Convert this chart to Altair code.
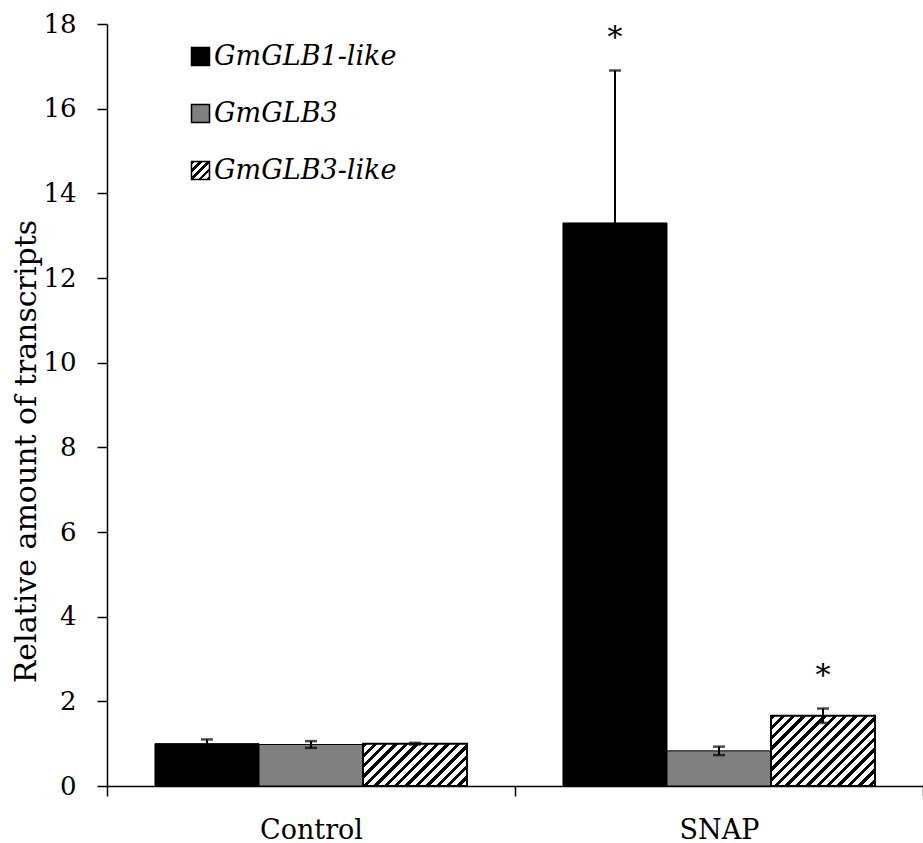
import json
import altair as alt
import pandas as pd

# ---- data ----
treatments = ["Control", "Control", "Control", "SNAP", "SNAP", "SNAP"]
genes = ["GmGLB1-like", "GmGLB3", "GmGLB3-like", "GmGLB1-like", "GmGLB3", "GmGLB3-like"]
values = [1.0, 0.98, 1.0, 13.3, 0.83, 1.66]
errors = [0.1, 0.08, 0.02, 3.6, 0.1, 0.17]
marks = ["", "", "", "*", "", "*"]

gene_order = ["GmGLB1-like", "GmGLB3", "GmGLB3-like"]
y_ticks = [0, 2, 4, 6, 8, 10, 12, 14, 16, 18]
y_max = 18

df = pd.DataFrame({"treatment": treatments, "gene": genes, "value": values,
                   "err": errors, "mark": marks})
df["lo"] = df["value"] - df["err"]
df["hi"] = df["value"] + df["err"]

W, H = 816, 762
FONT = "DejaVu Serif"
BAR_W = 104
PX_PER_UNIT = H / y_max


def hatch_stops(w, h, period=10.4, duty=0.42):
    n = (w + h) / period
    stops = []
    k = 0
    while k / n < 1:
        a = k / n
        b = min((k + duty) / n, 1.0)
        c = min((k + 1) / n, 1.0)
        stops += [{"offset": round(a, 5), "color": "black"}, {"offset": round(b, 5), "color": "black"},
                  {"offset": round(b, 5), "color": "white"}, {"offset": round(c, 5), "color": "white"}]
        k += 1
    r = h / w
    s = (1 + r) / (1 + r * r)
    return {"gradient": "linear", "x1": 0, "y1": 0, "x2": round(s, 5), "y2": round(s * r, 5), "stops": stops}


def hatch_gradient(w, h):
    g = hatch_stops(w, h)
    return alt.Gradient(gradient="linear", x1=g["x1"], y1=g["y1"], x2=g["x2"], y2=g["y2"],
                        stops=[alt.GradientStop(offset=s["offset"], color=s["color"]) for s in g["stops"]])


sym_hatch = hatch_stops(18, 18, period=8.0, duty=0.45)
gene_colors = ["black", "#808080", alt.ExprRef(expr=json.dumps(sym_hatch))]

x_enc = alt.X("treatment:N", sort=["Control", "SNAP"],
              scale=alt.Scale(paddingInner=0, paddingOuter=0),
              axis=alt.Axis(title=None, labelAngle=0, labelFont=FONT, labelFontSize=27,
                            labelColor="black", labelBaseline="alphabetic",
                            tickSize=10, tickColor="black", tickWidth=1.5,
                            domainColor="black", domainWidth=1.5, tickBand="extent",
                            labelPadding=42, grid=False))
xo_enc = alt.XOffset("gene:N", sort=gene_order,
                     scale=alt.Scale(paddingInner=0, paddingOuter=0.4615))
y_scale = alt.Scale(domain=[0, y_max], nice=False)
y_enc = alt.Y("value:Q", scale=y_scale,
              axis=alt.Axis(values=y_ticks, title="Relative amount of transcripts",
                            titleFont=FONT, titleFontSize=30, titleFontWeight="normal",
                            titleColor="black", titleX=-72, titleY=427, titleBaseline="alphabetic",
                            labelFont=FONT, labelFontSize=26, labelColor="black", labelPadding=21,
                            tickSize=10, tickColor="black", tickWidth=1.5,
                            domainColor="black", domainWidth=1.5, grid=False))

base = alt.Chart(df)

bars = base.mark_bar(stroke="black", strokeWidth=1).encode(
    x=x_enc, xOffset=xo_enc, y=y_enc,
    color=alt.Color("gene:N", sort=gene_order,
                    scale=alt.Scale(domain=gene_order, range=gene_colors),
                    legend=alt.Legend(orient="none", legendX=80, legendY=19, title=None,
                                      symbolType="square", symbolSize=324,
                                      symbolStrokeColor="black", symbolStrokeWidth=1.5,
                                      labelFont=FONT, labelFontStyle="italic", labelFontSize=27,
                                      labelColor="black", labelOffset=0, labelLimit=400,
                                      rowPadding=29, padding=0)),
)

hatch_layers = []
for t in ["Control", "SNAP"]:
    v = float(df[(df.treatment == t) & (df.gene == "GmGLB3-like")]["value"].iloc[0])
    hatch_layers.append(
        base.transform_filter(
            f"datum.gene === 'GmGLB3-like' && datum.treatment === '{t}'"
        ).mark_bar(fill=hatch_gradient(BAR_W, v * PX_PER_UNIT), stroke="black", strokeWidth=2).encode(
            x=alt.X("treatment:N", sort=["Control", "SNAP"]), xOffset=alt.XOffset("gene:N", sort=gene_order),
            y=alt.Y("value:Q"))
    )

rules = base.mark_rule(color="black", strokeWidth=2).encode(
    x=alt.X("treatment:N", sort=["Control", "SNAP"]), xOffset=alt.XOffset("gene:N", sort=gene_order),
    y=alt.Y("lo:Q"), y2="hi:Q")
caps_hi = base.mark_tick(color="black", thickness=2.5, size=12).encode(
    x=alt.X("treatment:N", sort=["Control", "SNAP"]), xOffset=alt.XOffset("gene:N", sort=gene_order),
    y=alt.Y("hi:Q"))
caps_lo = base.mark_tick(color="black", thickness=2.5, size=12).encode(
    x=alt.X("treatment:N", sort=["Control", "SNAP"]), xOffset=alt.XOffset("gene:N", sort=gene_order),
    y=alt.Y("lo:Q"))
stars = base.mark_text(font=FONT, fontSize=30, color="black", baseline="alphabetic", dy=-24).encode(
    x=alt.X("treatment:N", sort=["Control", "SNAP"]), xOffset=alt.XOffset("gene:N", sort=gene_order),
    y=alt.Y("hi:Q"), text="mark:N")

chart = alt.layer(bars, *hatch_layers, rules, caps_hi, caps_lo, stars).properties(
    width=W, height=H,
    autosize=alt.AutoSizeParams(type="none"),
    padding={"left": 107, "top": 24, "right": 0, "bottom": 57},
    background="white",
).configure_view(stroke=None)

chart.save("out.html", embed_options={"renderer": "svg", "actions": False})
